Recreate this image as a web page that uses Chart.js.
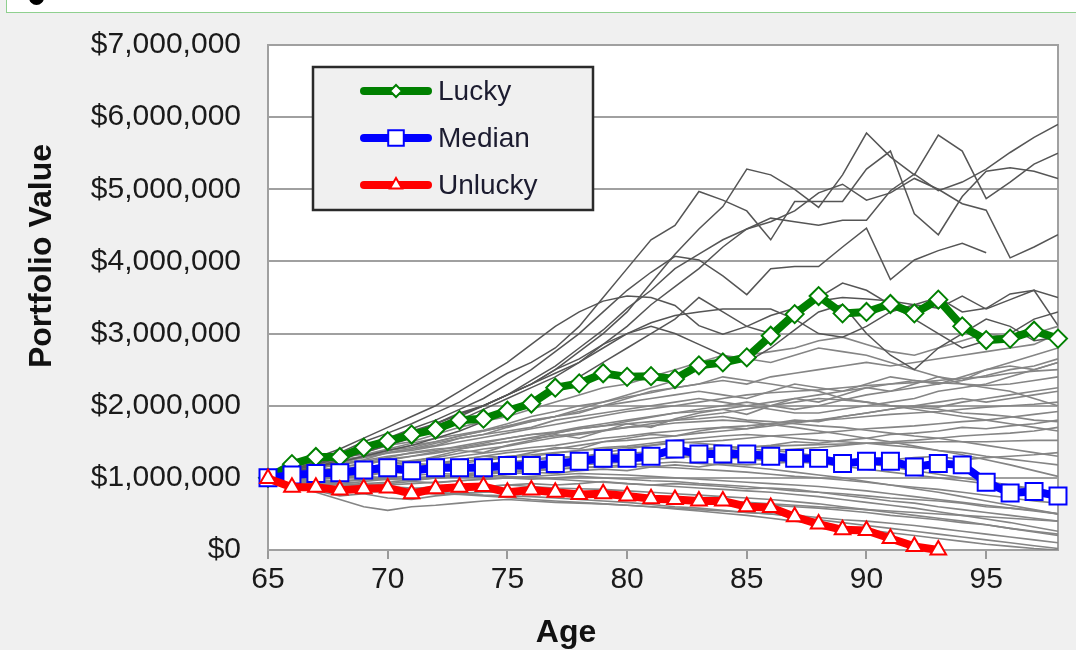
<!DOCTYPE html>
<html>
<head>
<meta charset="utf-8">
<script src="https://cdn.jsdelivr.net/npm/chart.js@4.4.1/dist/chart.umd.min.js"></script>
<style>
  html, body { margin: 0; padding: 0; background: #f0f0f0; }
  #wrap { position: relative; width: 1076px; height: 650px; overflow: hidden; }
  #strip { position: absolute; left: 6px; top: -2px; width: 1070px; height: 13px; border: 1px solid #8fd08f; background: #fff; }
  #dot { position: absolute; left: 22px; top: -9px; width: 15px; height: 15px; border-radius: 50%; background: #000; }
  canvas { position: absolute; left: 0; top: 0; }
</style>
</head>
<body>
<div id="wrap">
  <div id="strip"><div id="dot"></div></div>
  <canvas id="myChart" width="1076" height="650"></canvas>
</div>
<script>
const ages = [65,66,67,68,69,70,71,72,73,74,75,76,77,78,79,80,81,82,83,84,85,86,87,88,89,90,91,92,93,94,95,96,97,98];
const xTicks = [65,70,75,80,85,90,95];
const yTicks = [0,1000000,2000000,3000000,4000000,5000000,6000000,7000000];

// highlighted paths, $ millions
const lucky   = [1.0,1.19,1.29,1.29,1.42,1.51,1.6,1.67,1.8,1.82,1.93,2.03,2.25,2.31,2.45,2.4,2.41,2.37,2.56,2.6,2.67,2.97,3.27,3.52,3.28,3.3,3.41,3.28,3.47,3.1,2.91,2.93,3.04,2.93];
const median  = [1.0,1.04,1.06,1.07,1.11,1.14,1.1,1.14,1.14,1.14,1.17,1.17,1.2,1.23,1.27,1.27,1.3,1.4,1.33,1.33,1.33,1.3,1.27,1.27,1.2,1.23,1.23,1.15,1.2,1.18,0.94,0.79,0.81,0.75];
const unlucky = [0.99,0.87,0.87,0.83,0.85,0.86,0.78,0.85,0.87,0.88,0.8,0.83,0.8,0.77,0.78,0.75,0.71,0.7,0.68,0.68,0.6,0.59,0.46,0.36,0.28,0.27,0.16,0.05,0.0,null,null,null,null,null];

// other simulated paths (upper ones, darker)
const up1 = [1.0,1.18,1.3,1.35,1.5,1.62,1.75,1.9,2.05,2.25,2.45,2.6,2.8,3.1,3.5,3.9,4.3,4.5,4.97,4.85,4.7,4.3,4.83,4.83,4.83,5.28,5.53,4.66,4.37,4.9,5.25,5.3,5.25,5.15];
const up2 = [1.0,1.1,1.2,1.3,1.4,1.55,1.65,1.75,1.9,2.0,2.15,2.3,2.5,2.75,3.0,3.3,3.7,4.1,4.45,4.76,5.28,5.2,5.0,4.75,5.2,5.78,5.45,5.2,5.75,5.53,4.87,5.1,5.35,5.5];
const up3 = [1.0,1.12,1.22,1.3,1.42,1.55,1.68,1.8,1.95,2.1,2.3,2.5,2.75,3.0,3.3,3.6,3.85,4.07,4.02,3.8,3.54,3.9,3.93,3.93,4.2,4.46,3.75,4.02,4.15,4.25,4.12,null,null,null];
const up4 = [1.0,1.15,1.28,1.4,1.55,1.7,1.85,2.0,2.2,2.4,2.6,2.85,3.1,3.3,3.45,3.52,3.5,3.39,3.11,2.99,3.1,3.25,3.35,3.45,3.5,3.48,3.45,3.4,3.35,3.52,3.34,3.47,3.6,3.11];
const up5 = [1.0,1.08,1.15,1.25,1.35,1.45,1.55,1.7,1.8,1.95,2.1,2.25,2.4,2.6,2.85,3.1,3.4,3.65,3.9,4.2,4.45,4.6,4.55,4.5,4.57,4.57,4.98,5.21,4.98,5.1,5.28,5.51,5.72,5.9];
const up6 = [1.0,1.1,1.2,1.28,1.4,1.52,1.62,1.75,1.88,2.0,2.15,2.35,2.55,2.8,3.05,3.35,3.6,3.9,4.1,4.3,4.45,4.55,4.7,4.95,5.07,4.85,4.95,5.15,5.0,4.8,4.71,4.05,4.2,4.37];
const up7 = [1.0,1.1,1.18,1.28,1.38,1.5,1.6,1.72,1.85,2.0,2.15,2.3,2.5,2.65,2.85,3.0,3.15,3.25,3.3,3.34,3.34,3.34,3.2,3.0,2.95,3.1,3.3,3.4,3.5,3.3,3.35,3.55,3.6,3.5];
const up8 = [1.0,1.12,1.2,1.3,1.42,1.52,1.62,1.75,1.88,2.0,2.15,2.3,2.45,2.6,2.8,3.0,3.1,3.0,2.85,2.7,2.6,2.8,3.05,3.3,3.4,3.0,2.7,2.5,2.8,3.0,3.2,3.1,2.9,2.95];
const up9 = [1.0,1.08,1.15,1.22,1.3,1.38,1.45,1.55,1.65,1.78,1.9,2.05,2.2,2.4,2.6,2.8,3.0,3.2,3.5,3.3,3.1,3.0,3.2,3.5,3.7,3.6,3.4,3.2,3.0,2.8,2.9,3.0,3.2,3.3];

// the dense band
const band1  = [1.0,1.06,1.12,1.1,1.18,1.25,1.22,1.3,1.38,1.35,1.45,1.52,1.6,1.55,1.65,1.75,1.7,1.82,1.9,1.95,1.88,2.0,2.1,2.05,2.15,2.25,2.2,2.3,2.4,2.35,2.5,2.6,2.7,2.8];
const band2  = [1.0,1.02,1.08,1.05,1.12,1.15,1.2,1.18,1.25,1.3,1.28,1.35,1.42,1.4,1.5,1.55,1.6,1.58,1.65,1.7,1.68,1.75,1.8,1.78,1.85,1.9,1.95,2.0,1.98,2.05,2.1,2.15,2.2,2.25];
const band3  = [1.0,0.98,1.02,1.0,1.05,1.08,1.06,1.1,1.12,1.15,1.18,1.2,1.22,1.25,1.3,1.28,1.32,1.35,1.4,1.38,1.42,1.45,1.5,1.48,1.52,1.55,1.6,1.62,1.65,1.7,1.68,1.72,1.75,1.8];
const band4  = [1.0,0.95,0.98,0.95,0.97,0.98,0.96,1.0,1.02,1.0,1.05,1.08,1.06,1.1,1.12,1.1,1.15,1.18,1.15,1.2,1.18,1.2,1.22,1.25,1.2,1.22,1.25,1.28,1.3,1.25,1.28,1.3,1.32,1.35];
const band5  = [1.0,0.92,0.9,0.88,0.9,0.88,0.85,0.88,0.9,0.88,0.9,0.92,0.9,0.92,0.95,0.92,0.9,0.92,0.9,0.88,0.85,0.86,0.84,0.8,0.78,0.75,0.72,0.7,0.68,0.65,0.6,0.58,0.55,0.5];
const band6  = [1.0,0.9,0.85,0.82,0.8,0.82,0.78,0.8,0.78,0.76,0.75,0.74,0.72,0.7,0.68,0.66,0.63,0.6,0.58,0.55,0.52,0.5,0.46,0.42,0.38,0.34,0.3,0.26,0.22,0.18,0.14,0.1,0.06,0.02];
const band7  = [1.0,1.1,1.18,1.25,1.3,1.38,1.45,1.5,1.58,1.65,1.72,1.8,1.85,1.92,2.0,2.05,2.1,2.15,2.2,2.15,2.1,2.2,2.3,2.25,2.2,2.3,2.4,2.35,2.3,2.4,2.5,2.55,2.5,2.6];
const band8  = [1.0,1.05,1.15,1.2,1.25,1.35,1.4,1.45,1.55,1.6,1.7,1.78,1.85,1.9,2.0,2.1,2.2,2.25,2.3,2.4,2.35,2.3,2.25,2.2,2.1,2.05,2.0,1.95,1.9,1.85,1.8,1.75,1.7,1.65];
const band9  = [1.0,0.97,1.0,1.05,1.02,1.08,1.1,1.15,1.12,1.18,1.2,1.25,1.3,1.28,1.35,1.4,1.45,1.5,1.48,1.45,1.4,1.38,1.35,1.3,1.25,1.2,1.15,1.1,1.05,1.0,0.95,0.9,0.85,0.8];
const band10 = [1.0,0.93,0.95,0.92,0.9,0.92,0.95,0.93,0.96,0.98,1.0,0.98,1.0,1.02,1.0,0.98,0.96,0.95,0.92,0.9,0.88,0.85,0.82,0.8,0.76,0.72,0.68,0.65,0.6,0.56,0.52,0.48,0.44,0.4];
const band11 = [1.0,1.08,1.12,1.2,1.22,1.28,1.35,1.4,1.42,1.48,1.55,1.6,1.62,1.68,1.72,1.75,1.78,1.8,1.82,1.85,1.8,1.78,1.75,1.72,1.7,1.66,1.62,1.58,1.55,1.5,1.45,1.4,1.35,1.3];
const band12 = [1.0,0.96,0.92,0.9,0.86,0.84,0.8,0.78,0.77,0.75,0.73,0.7,0.68,0.66,0.64,0.62,0.6,0.57,0.54,0.51,0.48,0.44,0.4,0.36,0.32,0.28,0.24,0.2,0.16,0.12,0.08,0.05,0.02,0];
const band13 = [1.0,1.03,1.0,1.04,1.08,1.06,1.1,1.14,1.12,1.16,1.2,1.18,1.22,1.26,1.24,1.28,1.3,1.32,1.3,1.28,1.26,1.24,1.22,1.2,1.16,1.12,1.08,1.04,1.0,0.96,0.92,0.88,0.84,0.8];
const band14 = [1.0,0.88,0.8,0.7,0.6,0.55,0.6,0.62,0.65,0.68,0.7,0.68,0.66,0.65,0.64,0.62,0.6,0.58,0.56,0.54,0.52,0.5,0.48,0.45,0.42,0.4,0.37,0.34,0.3,0.26,0.22,0.18,0.14,0.1];
const band15 = [1.0,0.9,0.82,0.75,0.78,0.72,0.7,0.75,0.78,0.8,0.82,0.8,0.78,0.76,0.74,0.73,0.72,0.7,0.68,0.66,0.65,0.62,0.6,0.58,0.55,0.52,0.48,0.45,0.42,0.38,0.35,0.3,0.26,0.22];
const band16 = [1.0,1.15,1.22,1.3,1.32,1.4,1.48,1.55,1.6,1.66,1.75,1.85,1.92,2.0,2.05,2.12,2.18,2.25,2.3,2.35,2.3,2.4,2.45,2.5,2.55,2.6,2.55,2.6,2.65,2.7,2.75,2.8,2.85,3.0];
const band17 = [1.0,1.0,1.05,1.1,1.15,1.18,1.22,1.25,1.3,1.34,1.38,1.42,1.45,1.5,1.55,1.58,1.62,1.65,1.68,1.7,1.72,1.75,1.78,1.8,1.82,1.85,1.88,1.9,1.92,1.95,1.98,2.0,2.02,2.05];
const band18 = [1.0,0.95,0.92,0.95,0.92,0.94,0.97,1.0,1.02,1.05,1.08,1.1,1.12,1.15,1.14,1.16,1.15,1.14,1.12,1.1,1.08,1.05,1.02,1.0,0.97,0.94,0.9,0.87,0.84,0.8,0.76,0.72,0.68,0.65];
const band19 = [1.0,1.05,1.02,1.08,1.12,1.18,1.15,1.2,1.25,1.3,1.35,1.38,1.4,1.45,1.5,1.52,1.55,1.58,1.62,1.65,1.68,1.72,1.76,1.8,1.85,1.9,1.95,2.0,2.05,2.1,2.05,2.1,2.15,2.2];
const band20 = [1.0,0.98,0.95,0.92,0.9,0.88,0.86,0.85,0.86,0.88,0.9,0.88,0.86,0.85,0.84,0.82,0.8,0.78,0.76,0.74,0.72,0.7,0.67,0.64,0.6,0.56,0.52,0.48,0.44,0.4,0.35,0.3,0.25,0.2];
const band21 = [1.0,1.1,1.15,1.22,1.3,1.35,1.4,1.48,1.55,1.6,1.65,1.7,1.8,1.85,1.9,1.95,2.0,2.05,2.1,2.05,2.0,1.95,1.9,1.9,1.95,2.0,2.05,2.1,2.2,2.25,2.3,2.4,2.5,2.6];
const band22 = [1.0,1.0,0.98,1.0,1.02,1.0,1.03,1.06,1.05,1.08,1.1,1.12,1.15,1.18,1.2,1.22,1.25,1.28,1.3,1.32,1.35,1.38,1.4,1.42,1.45,1.48,1.5,1.52,1.55,1.58,1.6,1.62,1.65,1.7];
const band23 = [1.0,1.12,1.2,1.28,1.35,1.45,1.5,1.6,1.7,1.78,1.85,1.95,2.05,2.15,2.25,2.3,2.4,2.5,2.6,2.7,2.65,2.6,2.7,2.8,2.75,2.7,2.6,2.5,2.4,2.3,2.25,2.2,2.1,2.0];
const band24 = [1.0,1.08,1.15,1.2,1.3,1.38,1.42,1.5,1.58,1.65,1.72,1.78,1.85,1.95,2.05,2.15,2.25,2.35,2.5,2.6,2.7,2.75,2.8,2.9,2.95,2.85,2.75,2.7,2.8,2.9,3.0,2.95,3.0,3.1];
const band25 = [1.0,1.04,1.1,1.15,1.2,1.24,1.3,1.36,1.4,1.46,1.5,1.56,1.62,1.68,1.72,1.78,1.84,1.9,1.95,2.0,2.05,2.0,1.95,2.0,2.08,2.15,2.2,2.25,2.3,2.35,2.42,2.5,2.55,2.65];
const band26 = [1.0,0.97,0.99,1.03,1.07,1.1,1.12,1.16,1.2,1.24,1.28,1.3,1.34,1.38,1.42,1.44,1.48,1.52,1.55,1.58,1.6,1.58,1.55,1.52,1.5,1.48,1.45,1.42,1.38,1.35,1.3,1.26,1.22,1.18];
const band27 = [1.0,1.06,1.1,1.14,1.2,1.26,1.3,1.34,1.4,1.45,1.5,1.55,1.58,1.62,1.66,1.7,1.72,1.76,1.78,1.8,1.78,1.74,1.7,1.65,1.6,1.55,1.5,1.44,1.38,1.32,1.25,1.18,1.1,1.02];
const band28 = [1.0,0.94,0.9,0.92,0.95,0.98,1.0,1.02,1.04,1.06,1.08,1.1,1.12,1.14,1.16,1.18,1.2,1.22,1.2,1.18,1.15,1.12,1.08,1.04,1.0,0.95,0.9,0.85,0.8,0.74,0.68,0.62,0.56,0.5];
const band29 = [1.0,1.02,1.06,1.1,1.14,1.2,1.24,1.28,1.34,1.4,1.44,1.5,1.56,1.6,1.65,1.7,1.75,1.8,1.86,1.9,1.95,2.0,2.05,2.1,2.08,2.05,2.0,1.98,1.95,1.9,1.88,1.85,1.8,1.78];
const band30 = [1.0,0.96,0.94,0.96,0.98,1.0,0.98,1.0,1.02,1.04,1.02,1.0,0.98,0.96,0.94,0.92,0.9,0.88,0.86,0.84,0.82,0.8,0.77,0.74,0.7,0.66,0.62,0.58,0.53,0.48,0.43,0.38,0.32,0.26];
const band31 = [1.0,1.08,1.14,1.18,1.24,1.3,1.34,1.38,1.44,1.5,1.55,1.6,1.64,1.7,1.75,1.8,1.85,1.9,1.92,1.95,2.0,2.05,2.1,2.15,2.2,2.25,2.3,2.35,2.32,2.3,2.28,2.3,2.35,2.4];
const band32 = [1.0,1.0,1.02,1.06,1.08,1.12,1.16,1.18,1.22,1.26,1.3,1.32,1.35,1.38,1.4,1.42,1.45,1.48,1.5,1.52,1.55,1.58,1.6,1.62,1.65,1.68,1.7,1.72,1.75,1.78,1.8,1.84,1.88,1.92];
const band33 = [1.0,0.92,0.88,0.86,0.88,0.9,0.92,0.94,0.96,0.98,1.0,1.02,1.04,1.06,1.05,1.04,1.02,1.0,0.98,0.96,0.94,0.92,0.9,0.88,0.85,0.82,0.78,0.74,0.7,0.66,0.62,0.58,0.54,0.5];
const band34 = [1.0,1.1,1.16,1.22,1.28,1.34,1.38,1.44,1.5,1.56,1.62,1.68,1.74,1.8,1.86,1.92,1.96,2.0,2.05,2.1,2.15,2.18,2.2,2.22,2.25,2.28,2.3,2.32,2.35,2.38,2.4,2.45,2.48,2.5];
const band35 = [1.0,0.99,1.01,1.04,1.06,1.09,1.11,1.14,1.17,1.2,1.22,1.25,1.27,1.3,1.32,1.34,1.36,1.38,1.4,1.42,1.43,1.44,1.45,1.46,1.47,1.48,1.48,1.49,1.5,1.5,1.5,1.51,1.52,1.52];
const band36 = [1.0,0.9,0.86,0.84,0.82,0.8,0.79,0.78,0.79,0.8,0.81,0.8,0.79,0.78,0.77,0.76,0.74,0.72,0.7,0.68,0.66,0.64,0.62,0.6,0.58,0.56,0.54,0.52,0.5,0.48,0.46,0.44,0.42,0.4];

const upperPaths = [up1, up2, up3, up4, up5, up6, up7, up8, up9];
const bandPaths = [band1, band2, band3, band4, band5, band6, band7, band8, band9, band10, band11, band12,
                   band13, band14, band15, band16, band17, band18, band19, band20, band21, band22, band23, band24,
                   band25, band26, band27, band28, band29, band30, band31, band32, band33, band34, band35, band36];

const toPoints = vals => ages.map((a, i) => ({ x: a, y: vals[i] === null ? null : vals[i] * 1000000 }));

const highlight = (label, vals, color, style, radius) => ({
  label: label,
  data: toPoints(vals),
  borderColor: color,
  borderWidth: 8,
  pointStyle: style,
  pointRadius: radius,
  pointBackgroundColor: '#fff',
  pointBorderColor: color,
  pointBorderWidth: 2,
  clip: false,
  tension: 0
});

const grayLine = (vals, color, width) => ({
  label: '',
  data: toPoints(vals),
  borderColor: color,
  borderWidth: width,
  pointRadius: 0,
  tension: 0
});

// first datasets are drawn on top
const datasets = [
  highlight('Unlucky', unlucky, '#ff0000', 'triangle', 9),
  highlight('Median', median, '#0000ff', 'rect', 12),
  highlight('Lucky', lucky, '#008000', 'rectRot', 9),
  ...upperPaths.map(v => grayLine(v, '#555', 1.5)),
  ...bandPaths.map(v => grayLine(v, '#858585', 1.6))
];

const plotBg = {
  id: 'plotBg',
  beforeDraw(chart) {
    const { ctx, chartArea: a } = chart;
    ctx.save();
    ctx.fillStyle = '#fff';
    ctx.fillRect(a.left, a.top, a.right - a.left, a.bottom - a.top);
    ctx.restore();
  },
  beforeDatasetsDraw(chart) {
    const { ctx, chartArea: a } = chart;
    ctx.save();
    ctx.strokeStyle = '#a0a0a0';
    ctx.lineWidth = 2;
    ctx.strokeRect(a.left, a.top, a.right - a.left, a.bottom - a.top);
    ctx.restore();
  }
};

const boxLegend = {
  id: 'boxLegend',
  afterDatasetsDraw(chart) {
    const ctx = chart.ctx;
    ctx.save();
    ctx.fillStyle = '#f0f0f0';
    ctx.fillRect(313, 67, 280, 143);
    ctx.strokeStyle = '#2a2a2a';
    ctx.lineWidth = 2.5;
    ctx.strokeRect(313, 67, 280, 143);
    const order = [2, 1, 0];
    const sizes = [6, 11, 7];
    order.forEach((di, k) => {
      const ds = chart.data.datasets[di];
      const y = 91 + k * 47;
      ctx.strokeStyle = ds.borderColor;
      ctx.lineWidth = 8;
      ctx.lineCap = 'round';
      ctx.beginPath();
      ctx.moveTo(364, y);
      ctx.lineTo(428, y);
      ctx.stroke();
      ctx.fillStyle = '#fff';
      ctx.lineWidth = 2;
      Chart.helpers.drawPoint(ctx, { pointStyle: ds.pointStyle, rotation: 0, radius: sizes[k], borderWidth: 2 }, 396, y);
      ctx.fillStyle = '#1c1c30';
      ctx.font = '28px "Liberation Sans", Arial, sans-serif';
      ctx.textBaseline = 'middle';
      ctx.textAlign = 'left';
      ctx.fillText(ds.label, 438, y + 1);
    });
    ctx.restore();
  }
};

const axisTitles = {
  id: 'axisTitles',
  afterDraw(chart) {
    const ctx = chart.ctx;
    ctx.save();
    ctx.fillStyle = '#111';
    ctx.font = 'bold 32px "Liberation Sans", Arial, sans-serif';
    ctx.textAlign = 'center';
    ctx.textBaseline = 'middle';
    ctx.fillText('Age', 566, 633);
    ctx.translate(42, 256);
    ctx.rotate(-Math.PI / 2);
    ctx.fillText('Portfolio Value', 0, 0);
    ctx.restore();
  }
};

const tickFont = { family: '"Liberation Sans", Arial, sans-serif', size: 30 };

const myChart = new Chart(document.getElementById('myChart').getContext('2d'), {
  type: 'line',
  data: { datasets: datasets },
  options: {
    responsive: false,
    animation: false,
    layout: { padding: { top: 40, right: 18, left: 0, bottom: 0 } },
    plugins: { legend: { display: false }, tooltip: { enabled: false } },
    scales: {
      x: {
        type: 'linear',
        min: 65,
        max: 98,
        afterBuildTicks: s => { s.ticks = xTicks.map(v => ({ value: v })); },
        afterFit: s => { s.height = 100; },
        grid: { drawOnChartArea: false, drawTicks: true, tickLength: 9, color: '#999', lineWidth: 2 },
        border: { display: true, color: '#a0a0a0', width: 2 },
        ticks: { font: tickFont, color: '#1a1a1a', padding: 3, maxRotation: 0, autoSkip: false }
      },
      y: {
        min: 0,
        max: 7000000,
        afterBuildTicks: s => { s.ticks = yTicks.map(v => ({ value: v })); },
        afterFit: s => { s.width = 268; },
        grid: { color: '#a0a0a0', lineWidth: 2, drawTicks: false },
        border: { display: true, color: '#a0a0a0', width: 2 },
        ticks: { font: tickFont, color: '#1a1a1a', padding: 27, callback: v => '$' + v.toLocaleString('en-US') }
      }
    }
  },
  plugins: [plotBg, boxLegend, axisTitles]
});
</script>
</body>
</html>
